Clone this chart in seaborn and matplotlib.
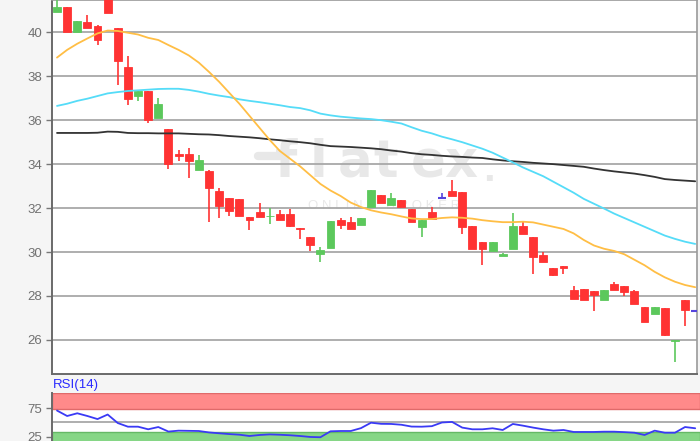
import numpy as np
import pandas as pd
import matplotlib
matplotlib.use("Agg")
import matplotlib.pyplot as plt
from matplotlib.lines import Line2D
import seaborn as sns

# ---------------- data ----------------
opens = [40.94, 41.13, 40.03, 40.47, 40.29, 42.00, 40.21, 38.44, 37.10, 37.33,
         36.11, 35.61, 34.47, 34.44, 33.73, 33.68, 32.77, 32.47, 32.42, 31.59,
         31.83, 31.63, 31.71, 31.71, 31.10, 30.69, 29.89, 30.19, 31.48, 31.36,
         31.21, 32.06, 32.59, 32.13, 32.39, 31.94, 31.15, 31.84, 32.45, 32.77,
         32.72, 31.18, 30.46, 30.04, 29.84, 30.15, 31.18, 30.69, 29.85, 29.28,
         29.35, 28.29, 28.32, 28.21, 27.84, 28.55, 28.44, 28.21, 27.50, 27.18,
         27.46, 25.94, 27.80, 27.30]
highs = [41.80, 41.13, 40.51, 40.77, 40.35, 42.20, 40.21, 38.92, 37.33, 37.33,
         37.03, 35.61, 34.64, 34.72, 34.43, 33.72, 32.92, 32.47, 32.42, 31.59,
         32.24, 32.01, 31.90, 31.94, 31.10, 30.69, 30.23, 31.40, 31.54, 31.59,
         31.53, 32.82, 32.59, 32.70, 32.39, 31.94, 31.48, 32.04, 32.70, 33.26,
         32.72, 31.18, 30.46, 30.46, 29.95, 31.79, 31.40, 30.69, 30.01, 29.28,
         29.35, 28.47, 28.32, 28.21, 28.26, 28.65, 28.44, 28.29, 27.50, 27.50,
         27.46, 25.98, 27.80, 27.30]
lows = [40.94, 40.03, 40.03, 40.18, 39.41, 40.90, 37.59, 36.67, 36.87, 35.85,
        36.11, 33.79, 34.14, 33.38, 33.73, 31.36, 31.56, 31.66, 31.66, 30.99,
        31.60, 31.28, 31.44, 31.15, 30.60, 30.04, 29.54, 30.19, 31.06, 31.07,
        31.21, 32.06, 32.21, 32.13, 32.04, 31.38, 30.67, 31.51, 32.45, 32.54,
        30.80, 30.15, 29.43, 30.04, 29.80, 30.15, 30.80, 29.02, 29.55, 28.90,
        29.02, 27.88, 27.84, 27.30, 27.84, 28.29, 27.99, 27.65, 26.82, 27.18,
        26.20, 24.98, 26.65, 27.30]
closes = [41.13, 40.03, 40.51, 40.18, 39.65, 40.90, 38.69, 36.98, 37.33, 36.00,
          36.72, 33.99, 34.36, 34.14, 34.18, 32.92, 32.09, 31.86, 31.66, 31.47,
          31.60, 31.66, 31.44, 31.18, 31.03, 30.34, 30.11, 31.40, 31.25, 31.07,
          31.53, 32.82, 32.21, 32.47, 32.04, 31.38, 31.48, 31.51, 32.45, 32.54,
          31.13, 30.15, 30.15, 30.46, 29.92, 31.18, 30.80, 29.78, 29.55, 28.94,
          29.26, 27.88, 27.84, 28.03, 28.26, 28.29, 28.17, 27.65, 26.82, 27.50,
          26.24, 25.98, 27.35, 27.30]

ma_orange = [38.85, 39.20, 39.48, 39.72, 39.95, 40.08, 40.06, 39.98, 39.90, 39.75,
             39.65, 39.42, 39.20, 38.95, 38.62, 38.20, 37.75, 37.25, 36.75, 36.20,
             35.65, 35.10, 34.60, 34.25, 33.90, 33.50, 33.10, 32.80, 32.55, 32.25,
             32.05, 31.90, 31.80, 31.72, 31.62, 31.53, 31.50, 31.50, 31.55, 31.58,
             31.56, 31.52, 31.45, 31.40, 31.36, 31.36, 31.38, 31.35, 31.25, 31.15,
             31.05, 30.85, 30.55, 30.30, 30.15, 30.05, 29.90, 29.65, 29.40, 29.10,
             28.85, 28.65, 28.50, 28.40]
ma_cyan = [36.65, 36.75, 36.88, 36.98, 37.10, 37.22, 37.28, 37.33, 37.36, 37.39,
           37.42, 37.43, 37.43, 37.38, 37.30, 37.20, 37.12, 37.05, 36.95, 36.88,
           36.82, 36.75, 36.68, 36.60, 36.55, 36.45, 36.30, 36.22, 36.16, 36.12,
           36.08, 36.05, 36.00, 35.93, 35.85, 35.68, 35.52, 35.40, 35.25, 35.13,
           35.00, 34.85, 34.70, 34.52, 34.30, 34.08, 33.85, 33.65, 33.45, 33.20,
           32.95, 32.70, 32.42, 32.20, 31.98, 31.75, 31.55, 31.35, 31.15, 30.95,
           30.75, 30.60, 30.47, 30.37]
ma_black = [35.42, 35.42, 35.42, 35.42, 35.43, 35.48, 35.47, 35.42, 35.41, 35.41,
            35.40, 35.40, 35.40, 35.38, 35.36, 35.35, 35.32, 35.28, 35.25, 35.22,
            35.18, 35.13, 35.09, 35.04, 35.00, 34.95, 34.88, 34.82, 34.80, 34.78,
            34.75, 34.72, 34.68, 34.62, 34.57, 34.50, 34.45, 34.42, 34.38, 34.35,
            34.33, 34.30, 34.28, 34.22, 34.17, 34.13, 34.10, 34.06, 34.03, 34.00,
            33.96, 33.92, 33.88, 33.80, 33.73, 33.67, 33.62, 33.57, 33.50, 33.42,
            33.32, 33.28, 33.25, 33.22]
rsi14 = [71.0, 61.4, 66.2, 61.4, 56.0, 64.0, 49.0, 42.6, 42.6, 38.0,
         42.0, 34.0, 35.6, 35.3, 35.0, 32.5, 31.0, 29.6, 28.5, 26.2,
         28.0, 29.0, 28.4, 27.5, 26.2, 24.5, 24.0, 34.5, 35.0, 35.0,
         40.0, 49.6, 47.6, 47.4, 46.0, 42.8, 42.6, 43.5, 50.0, 51.0,
         41.0, 38.0, 38.0, 39.8, 36.8, 47.4, 44.4, 41.0, 38.0, 35.6,
         36.8, 33.3, 33.3, 33.3, 33.8, 33.8, 33.0, 32.0, 28.0, 35.6,
         32.0, 32.0, 42.0, 39.8]

price_ticks = [26, 28, 30, 32, 34, 36, 38, 40]
rsi_ticks = [25, 75]
rsi_label = "RSI(14)"

# ---------------- styling ----------------
sns.set_style("white")
plt.rcParams['font.family'] = ['Liberation Sans', 'DejaVu Sans']

UP = '#5cc85c'
DOWN = '#ff3333'
DOJI = '#5544dd'
GRID = '#a8a8a8'
TICK = '#707070'
WM = '#e8e8e8'

W, H = 700, 441
fig = plt.figure(figsize=(7, 4.41), dpi=100, facecolor='#f5f5f5')
ax = fig.add_axes([52 / W, 67 / H, 645 / W, 374 / H])
ax2 = fig.add_axes([52 / W, 0, 648 / W, 48 / H])

n = len(opens)
idx = np.arange(n)
df = pd.DataFrame({'i': idx, 'open': opens, 'high': highs, 'low': lows,
                   'close': closes, 'ma20': ma_orange, 'ma50': ma_cyan,
                   'ma200': ma_black, 'rsi': rsi14})

# ---------------- main price panel ----------------
ax.set_facecolor('white')
ax.set_xlim(-0.494, 63.18)
ax.set_ylim(24.45, 41.47)
ax.set_yticks(price_ticks)
ax.set_yticklabels([str(t) for t in price_ticks])
ax.set_xticks([])
ax.set_axisbelow(True)
ax.grid(axis='y', color=GRID, lw=1.3, zorder=0.5)
ax.grid(axis='x', visible=False)

# watermark (inside the axes, beneath grid and marks)
letters = [('f', 286), ('l', 319), ('a', 355), ('t', 386), ('e', 428), ('x', 461)]
for ch, px in letters:
    ax.text(px / W, 1 - 163 / H, ch, transform=fig.transFigure, fontsize=37,
            color=WM, fontweight='bold', ha='center', va='center', zorder=0.1,
            family=['DejaVu Sans'])
ax.add_line(Line2D([258 / W, 282 / W], [1 - 156 / H, 1 - 156 / H],
                   transform=fig.transFigure, color=WM, lw=6,
                   solid_capstyle='round', zorder=0.1))
ax.text(489 / W, 1 - 170 / H, '.', transform=fig.transFigure, fontsize=30,
        color=WM, ha='center', va='center', zorder=0.1, fontweight='bold')
ax.text(384 / W, 1 - 206 / H, 'O N L I N E   B R O K E R',
        transform=fig.transFigure, fontsize=9.5, color='#e9e9e9',
        ha='center', va='center', zorder=0.1)

# candles
for i in idx:
    o, h, l, c = opens[i], highs[i], lows[i], closes[i]
    if abs(c - o) < 1e-9:
        col = DOJI
    elif c > o:
        col = UP
    else:
        col = DOWN
    ax.vlines(i, l, h, color=col, lw=1.2, zorder=3)
    if abs(c - o) < 1e-9:
        ax.hlines(o, i - 0.4, i + 0.4, color=col, lw=1.5, zorder=3)
    else:
        ax.bar(i, abs(c - o), bottom=min(o, c), width=0.78, color=col,
               edgecolor=col, lw=0.6, zorder=3)

sns.lineplot(data=df, x='i', y='ma200', ax=ax, color='#333333', lw=1.3, zorder=4)
sns.lineplot(data=df, x='i', y='ma50', ax=ax, color='#55dcf8', lw=1.3, zorder=4)
sns.lineplot(data=df, x='i', y='ma20', ax=ax, color='#ffbe45', lw=1.3, zorder=4)
ax.set_xlabel('')
ax.set_ylabel('')

ax.tick_params(axis='y', which='both', left=True, length=4, width=1,
               color='#777777', labelcolor=TICK, labelsize=9.5, pad=3)
for side in ['left', 'bottom']:
    ax.spines[side].set_color('#6a6a6a')
    ax.spines[side].set_linewidth(1.4)
for side in ['right', 'top']:
    ax.spines[side].set_color('#9a9a9a')
    ax.spines[side].set_linewidth(1.2)

# ---------------- RSI panel ----------------
ax2.set_facecolor('white')
ax2.set_xlim(-0.494, -0.494 + 648 / 10.13)
ax2.set_ylim(17.4, 101.9)
ax2.axhspan(74, 101.9, facecolor='#ff8a8a', edgecolor='#e06a6a', lw=1.0, zorder=1)
ax2.axhspan(0, 33.5, facecolor='#86d686', edgecolor='#66b866', lw=1.0, zorder=1)
ax2.axhline(50, color=GRID, lw=1.3, zorder=1.5)
sns.lineplot(data=df, x='i', y='rsi', ax=ax2, color='#3a3af5', lw=1.3, zorder=3)
ax2.set_xlabel('')
ax2.set_ylabel('')
ax2.set_xticks([])
ax2.set_yticks(rsi_ticks)
ax2.set_yticklabels([str(t) for t in rsi_ticks])
ax2.tick_params(axis='y', left=True, length=4, width=1, color='#777777',
                labelcolor=TICK, labelsize=9.5, pad=3)
ax2.grid(False)
ax2.spines['left'].set_color('#6a6a6a')
ax2.spines['left'].set_linewidth(1.4)
for side in ['top', 'right', 'bottom']:
    ax2.spines[side].set_visible(False)

fig.text(53 / W, 1 - 385 / H, rsi_label, fontsize=9.5, color='#2a2aff',
         ha='left', va='center')

fig.savefig('out.png', dpi=100, facecolor=fig.get_facecolor())
